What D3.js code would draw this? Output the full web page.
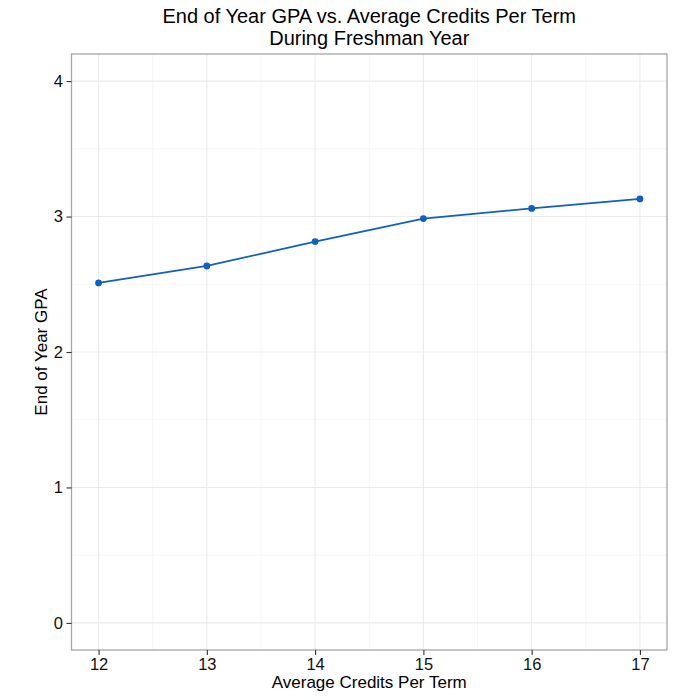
<!DOCTYPE html>
<html>
<head>
<meta charset="utf-8">
<script src="https://cdn.jsdelivr.net/npm/d3@7"></script>
<style>
  html, body { margin: 0; padding: 0; background: #fff; }
  svg { display: block; font-family: "Liberation Sans", Arial, sans-serif; }
</style>
</head>
<body>
<svg id="chart" width="700" height="700"></svg>
<script>
const credits = [12, 13, 14, 15, 16, 17];
const gpa = [2.51, 2.635, 2.815, 2.985, 3.06, 3.13];
const xTicks = [12, 13, 14, 15, 16, 17];
const yTicks = [0, 1, 2, 3, 4];
const xMinor = [12.5, 13.5, 14.5, 15.5, 16.5];
const yMinor = [0.5, 1.5, 2.5, 3.5];
const titleLines = ["End of Year GPA vs. Average Credits Per Term", "During Freshman Year"];
const xLabel = "Average Credits Per Term";
const yLabel = "End of Year GPA";

(function () {
const svg = d3.select("#chart");
const pLeft = 71.5, pRight = 667, pTop = 54, pBottom = 650;

const x = d3.scaleLinear().domain([11.75, 17.25]).range([pLeft, pRight]);
const y = d3.scaleLinear().domain([-0.2, 4.2]).range([pBottom, pTop]);

const g = svg.append("g");

// minor grid
g.selectAll(".xminor").data(xMinor).enter().append("line")
  .attr("x1", d => x(d)).attr("x2", d => x(d)).attr("y1", pTop).attr("y2", pBottom)
  .attr("stroke", "#f4f4f4").attr("stroke-width", 0.8);
g.selectAll(".yminor").data(yMinor).enter().append("line")
  .attr("y1", d => y(d)).attr("y2", d => y(d)).attr("x1", pLeft).attr("x2", pRight)
  .attr("stroke", "#f4f4f4").attr("stroke-width", 0.8);
// major grid
g.selectAll(".xmajor").data(xTicks).enter().append("line")
  .attr("x1", d => x(d)).attr("x2", d => x(d)).attr("y1", pTop).attr("y2", pBottom)
  .attr("stroke", "#ebebeb").attr("stroke-width", 1.1);
g.selectAll(".ymajor").data(yTicks).enter().append("line")
  .attr("y1", d => y(d)).attr("y2", d => y(d)).attr("x1", pLeft).attr("x2", pRight)
  .attr("stroke", "#ebebeb").attr("stroke-width", 1.1);

// data line
const line = d3.line().x((d, i) => x(credits[i])).y(d => y(d));
g.append("path").datum(gpa).attr("d", line)
  .attr("fill", "none").attr("stroke", "#1060bf").attr("stroke-width", 1.8);
g.selectAll(".pt").data(gpa).enter().append("circle")
  .attr("cx", (d, i) => x(credits[i])).attr("cy", d => y(d)).attr("r", 3.4)
  .attr("fill", "#1060bf");

// panel border
g.append("rect").attr("x", pLeft).attr("y", pTop).attr("width", pRight - pLeft).attr("height", pBottom - pTop)
  .attr("fill", "none").attr("stroke", "#a6a6a6").attr("stroke-width", 1.3);

// axes
const xAxis = d3.axisBottom(x).tickValues(xTicks).tickSize(5).tickPadding(3.5).tickFormat(d3.format("d"));
const yAxis = d3.axisLeft(y).tickValues(yTicks).tickSize(5).tickPadding(3.5).tickFormat(d3.format("d"));

const xa = svg.append("g").attr("transform", `translate(0,${pBottom})`).call(xAxis);
const ya = svg.append("g").attr("transform", `translate(${pLeft},0)`).call(yAxis);
[xa, ya].forEach(a => {
  a.select(".domain").remove();
  a.selectAll(".tick line").attr("stroke", "#333").attr("stroke-width", 1.1);
  a.selectAll(".tick text").attr("fill", "#111").style("font-size", "16.5px")
    .style("font-family", '"Liberation Sans", Arial, sans-serif');
});

// titles
const cx = (pLeft + pRight) / 2;
svg.append("text").attr("x", cx).attr("y", 23.3).attr("text-anchor", "middle")
  .style("font-size", "20px").attr("fill", "#000").text(titleLines[0]);
svg.append("text").attr("x", cx).attr("y", 45).attr("text-anchor", "middle")
  .style("font-size", "20px").attr("fill", "#000").text(titleLines[1]);

svg.append("text").attr("x", cx).attr("y", 688).attr("text-anchor", "middle")
  .style("font-size", "17px").attr("fill", "#000").text(xLabel);
svg.append("text").attr("transform", `translate(47,${(pTop + pBottom) / 2}) rotate(-90)`)
  .attr("text-anchor", "middle").style("font-size", "17px").attr("fill", "#000").text(yLabel);
})();
</script>
</body>
</html>
